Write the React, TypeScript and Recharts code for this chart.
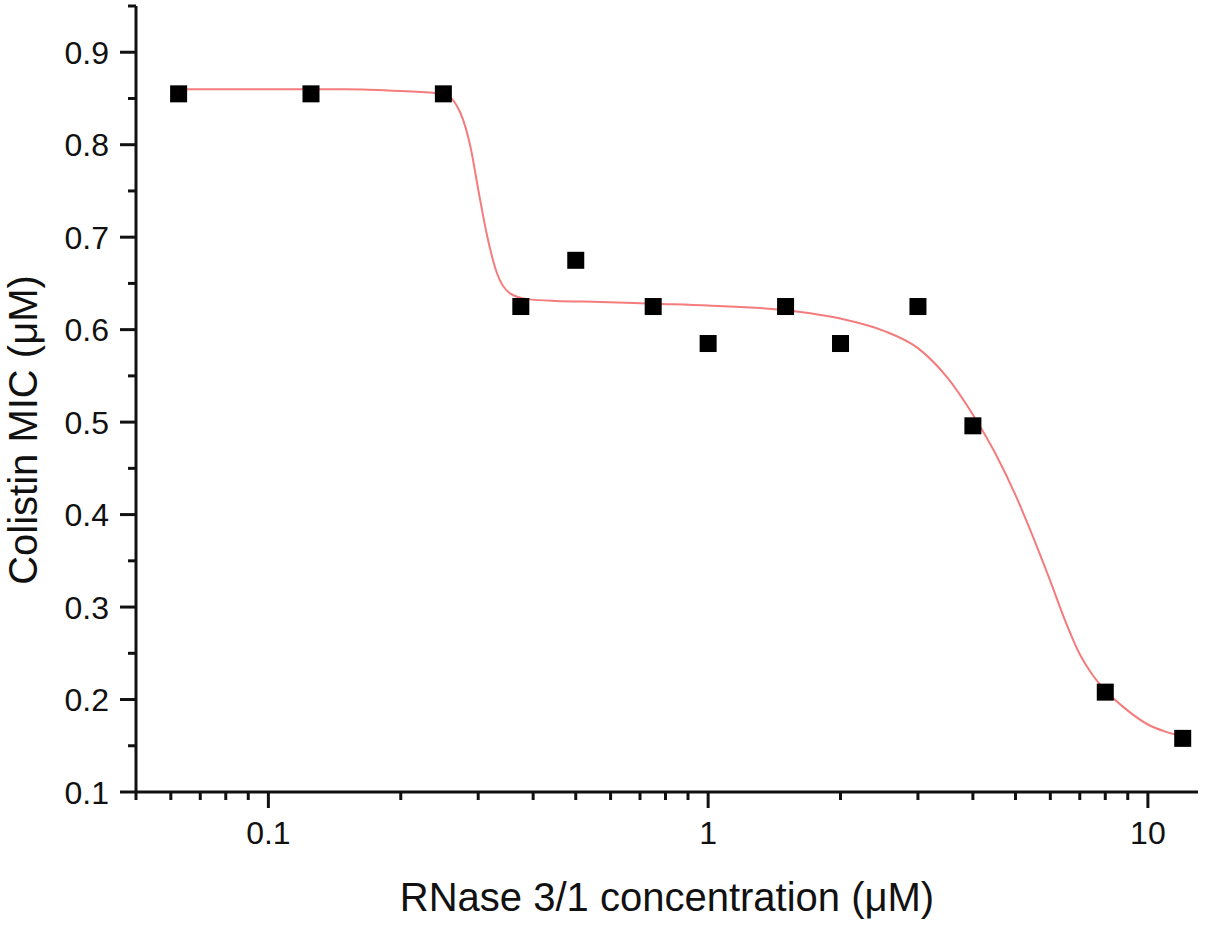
import React from "react";
import { ComposedChart, XAxis, YAxis, Line, Scatter, Label } from "recharts";

// Measured data (RNase 3/1 concentration in µM vs Colistin MIC in µM)
const concentrations = [0.0625, 0.125, 0.25, 0.375, 0.5, 0.75, 1, 1.5, 2, 3, 4, 8, 12];
const micValues = [0.855, 0.855, 0.855, 0.625, 0.675, 0.625, 0.585, 0.625, 0.585, 0.625, 0.496, 0.208, 0.158];

// Fitted curve
const fitX = [0.0625, 0.1, 0.15, 0.2, 0.25, 0.2735, 0.288, 0.301, 0.3145, 0.331, 0.355, 0.388, 0.45, 0.57, 0.75, 1, 1.5, 2, 2.5, 3, 3.5, 4, 4.5, 5, 5.5, 6, 6.5, 7, 7.5, 8, 9, 10, 11, 12];
const fitY = [0.86, 0.86, 0.86, 0.858, 0.855, 0.834, 0.798, 0.748, 0.701, 0.661, 0.639, 0.633, 0.631, 0.63, 0.628, 0.626, 0.621, 0.612, 0.599, 0.58, 0.548, 0.508, 0.466, 0.421, 0.374, 0.328, 0.284, 0.249, 0.226, 0.21, 0.188, 0.173, 0.165, 0.16];

// Axis ticks
const xTicks = [0.05, 0.06, 0.07, 0.08, 0.09, 0.1, 0.2, 0.3, 0.4, 0.5, 0.6, 0.7, 0.8, 0.9, 1, 2, 3, 4, 5, 6, 7, 8, 9, 10];
const xMajorTicks = [0.1, 1, 10];
const xMajorLabels = ["0.1", "1", "10"];
const yTicks = [0.1, 0.15, 0.2, 0.25, 0.3, 0.35, 0.4, 0.45, 0.5, 0.55, 0.6, 0.65, 0.7, 0.75, 0.8, 0.85, 0.9, 0.95];
const yMajorTicks = [0.1, 0.2, 0.3, 0.4, 0.5, 0.6, 0.7, 0.8, 0.9];
const yMajorLabels = ["0.1", "0.2", "0.3", "0.4", "0.5", "0.6", "0.7", "0.8", "0.9"];

const points = concentrations.map((x, i) => ({ x, y: micValues[i] }));
const curve = fitX.map((x, i) => ({ x, y: fitY[i] }));

const FONT = "'Liberation Sans', Arial, Helvetica, sans-serif";
const AXIS_COLOR = "#111";

const findIdx = (arr: number[], v: number) => arr.findIndex((a) => Math.abs(a - v) < 1e-9);

const XTick = (props: any) => {
  const { x, y, payload } = props;
  const idx = findIdx(xMajorTicks, payload.value);
  const major = idx >= 0;
  return (
    <g>
      <line x1={x} x2={x} y1={y} y2={y + (major ? 16 : 8)} stroke={AXIS_COLOR} strokeWidth={3} />
      {major && (
        <text x={x} y={y + 52} textAnchor="middle" fontSize={32} fontFamily={FONT} fill="#111">
          {xMajorLabels[idx]}
        </text>
      )}
    </g>
  );
};

const YTick = (props: any) => {
  const { x, y, payload } = props;
  const idx = findIdx(yMajorTicks, payload.value);
  const major = idx >= 0;
  return (
    <g>
      <line x1={x} x2={x - (major ? 16 : 8)} y1={y} y2={y} stroke={AXIS_COLOR} strokeWidth={3} />
      {major && (
        <text x={x - 27} y={y + 11.5} textAnchor="end" fontSize={32} fontFamily={FONT} fill="#111">
          {yMajorLabels[idx]}
        </text>
      )}
    </g>
  );
};

const SquareDot = (props: any) => {
  const { cx, cy } = props;
  if (cx == null || cy == null) return null;
  const s = 17;
  return <rect x={cx - s / 2} y={cy - s / 2} width={s} height={s} fill="#000" />;
};

const YLabel = (props: any) => {
  const vb = props.viewBox || {};
  const cx = vb.x + 37;
  const cy = vb.y + vb.height / 2 + 31;
  return (
    <text
      x={cx}
      y={cy}
      transform={`rotate(-90, ${cx}, ${cy})`}
      textAnchor="middle"
      fontSize={40}
      fontFamily={FONT}
      fill="#111"
    >
      Colistin MIC (μM)
    </text>
  );
};

const XLabel = (props: any) => {
  const vb = props.viewBox || {};
  const cx = vb.x + vb.width / 2;
  const cy = vb.y + 119;
  return (
    <text x={cx} y={cy} textAnchor="middle" fontSize={40} fontFamily={FONT} fill="#111">
      RNase 3/1 concentration (μM)
    </text>
  );
};

export default function App() {
  return (
    <div style={{ position: "absolute", left: 0, top: 0, width: 1205, height: 926, background: "#fff" }}>
      <ComposedChart width={1205} height={926} margin={{ top: 6, right: 7, bottom: 0, left: 0 }}>
        <XAxis
          type="number"
          dataKey="x"
          scale="log"
          domain={[0.05, 13]}
          allowDataOverflow
          ticks={xTicks}
          interval={0}
          tick={<XTick />}
          tickLine={false}
          tickSize={0}
          tickMargin={0}
          height={134}
          axisLine={{ stroke: AXIS_COLOR, strokeWidth: 3 }}
        >
          <Label content={<XLabel />} />
        </XAxis>
        <YAxis
          type="number"
          dataKey="y"
          domain={[0.1, 0.95]}
          allowDataOverflow
          ticks={yTicks}
          interval={0}
          tick={<YTick />}
          tickLine={false}
          tickSize={0}
          tickMargin={0}
          width={136}
          axisLine={{ stroke: AXIS_COLOR, strokeWidth: 3 }}
        >
          <Label content={<YLabel />} />
        </YAxis>
        <Line
          data={curve}
          dataKey="y"
          type="monotone"
          stroke="#F47C7C"
          strokeWidth={2}
          dot={false}
          activeDot={false}
          isAnimationActive={false}
        />
        <Scatter data={points} dataKey="y" shape={<SquareDot />} isAnimationActive={false} />
      </ComposedChart>
    </div>
  );
}
